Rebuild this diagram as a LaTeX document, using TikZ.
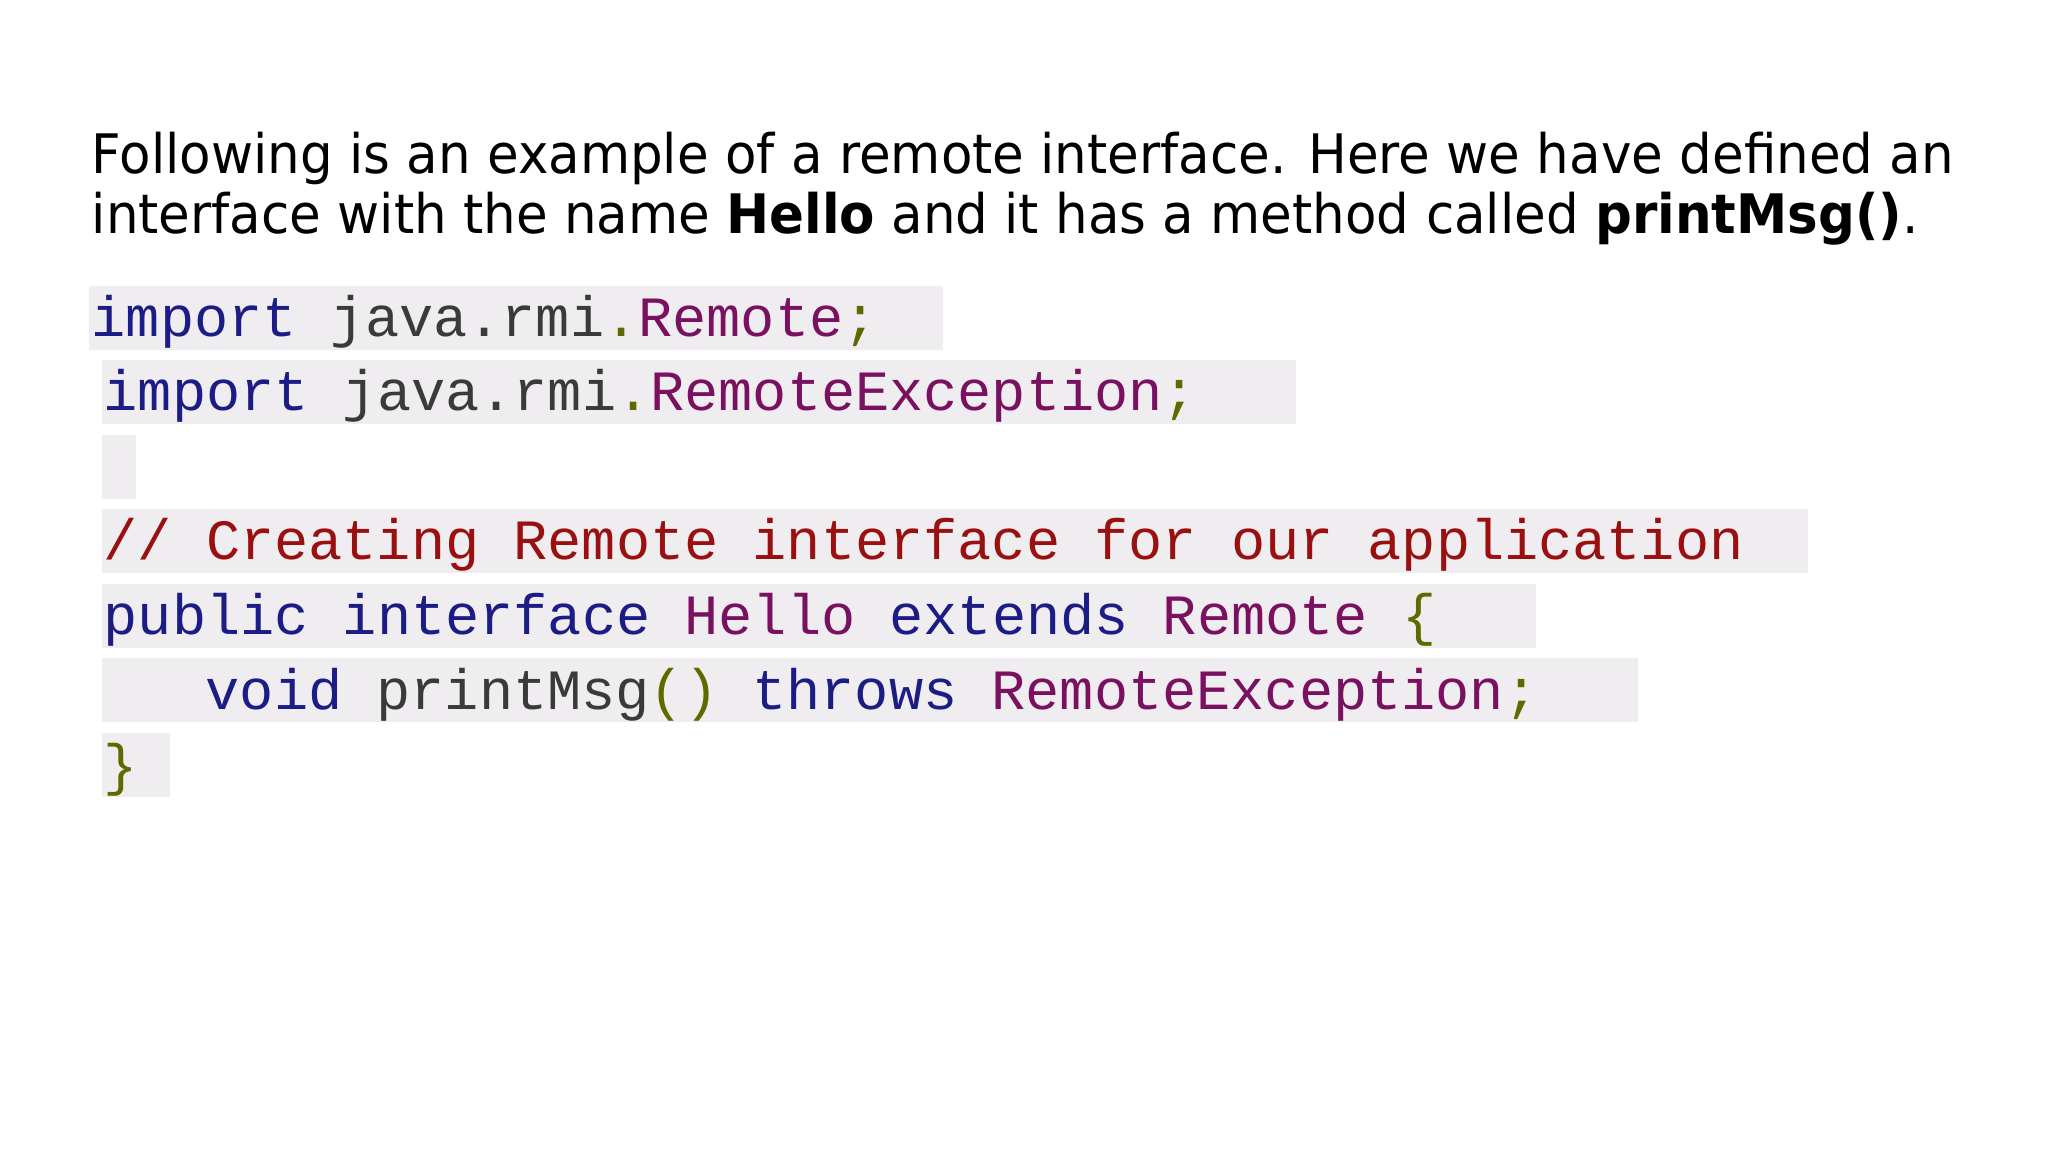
\documentclass[tikz,border=0pt]{standalone}
\usepackage{fontspec}
\setmainfont{DejaVu Sans}
\newfontfamily\codefont[WordSpace={1,0,0}]{Liberation Mono}
\definecolor{kw}{HTML}{1C1C86}
\definecolor{idc}{HTML}{3A3A3A}
\definecolor{pun}{HTML}{5E6A00}
\definecolor{cls}{HTML}{7A1060}
\definecolor{cmt}{HTML}{9A1010}
\definecolor{boxbg}{HTML}{EFEDEF}
\tikzset{
 para/.style={anchor=base west,inner sep=0pt,font=\fontsize{15.5}{20}\selectfont},
 code/.style={anchor=base west,inner sep=0pt,font=\codefont\fontsize{16.2}{18}\selectfont},
 bg/.style={fill=boxbg,draw=none}
}
\newcommand{\K}[1]{\textcolor{kw}{#1}}
\newcommand{\I}[1]{\textcolor{idc}{#1}}
\newcommand{\Pn}[1]{\textcolor{pun}{#1}}
\newcommand{\C}[1]{\textcolor{cls}{#1}}
\begin{document}
\begin{tikzpicture}[x=1cm,y=1cm]
\useasboundingbox[fill=white] (0,0) rectangle (20.48,-11.52);
\fill[bg] (0.89,-2.86) rectangle (9.43,-3.50);
\fill[bg] (1.02,-3.60) rectangle (12.96,-4.24);
\fill[bg] (1.02,-4.35) rectangle (1.36,-4.99);
\fill[bg] (1.02,-5.09) rectangle (18.08,-5.73);
\fill[bg] (1.02,-5.84) rectangle (15.36,-6.48);
\fill[bg] (1.02,-6.58) rectangle (16.38,-7.22);
\fill[bg] (1.02,-7.33) rectangle (1.70,-7.97);
\node[para] (p1) at (0.91,-1.74) {\scalebox{0.945}[1]{Following is an example of a remote interface. Here we have defined an}};
\node[para] (p2) at (0.91,-2.34) {\scalebox{0.945}[1]{interface with the name \textbf{Hello} and it has a method called \textbf{printMsg()}.}};
\node[code] (c1) at (0.91,-3.37) {\K{import} \I{java.rmi}\Pn{.}\C{Remote}\Pn{;}};
\node[code] (c2) at (1.03,-4.11) {\K{import} \I{java.rmi}\Pn{.}\C{RemoteException}\Pn{;}};
\node[code,text=cmt] (c4) at (1.03,-5.60) {// Creating Remote interface for our application};
\node[code] (c5) at (1.03,-6.35) {\K{public} \K{interface} \C{Hello} \K{extends} \C{Remote} \Pn{\{}};
\node[code] (c6) at (2.05,-7.09) {\K{void} \I{printMsg}\Pn{()} \K{throws} \C{RemoteException}\Pn{;}};
\node[code] (c7) at (1.03,-7.84) {\Pn{\}}};
\end{tikzpicture}
\end{document}
